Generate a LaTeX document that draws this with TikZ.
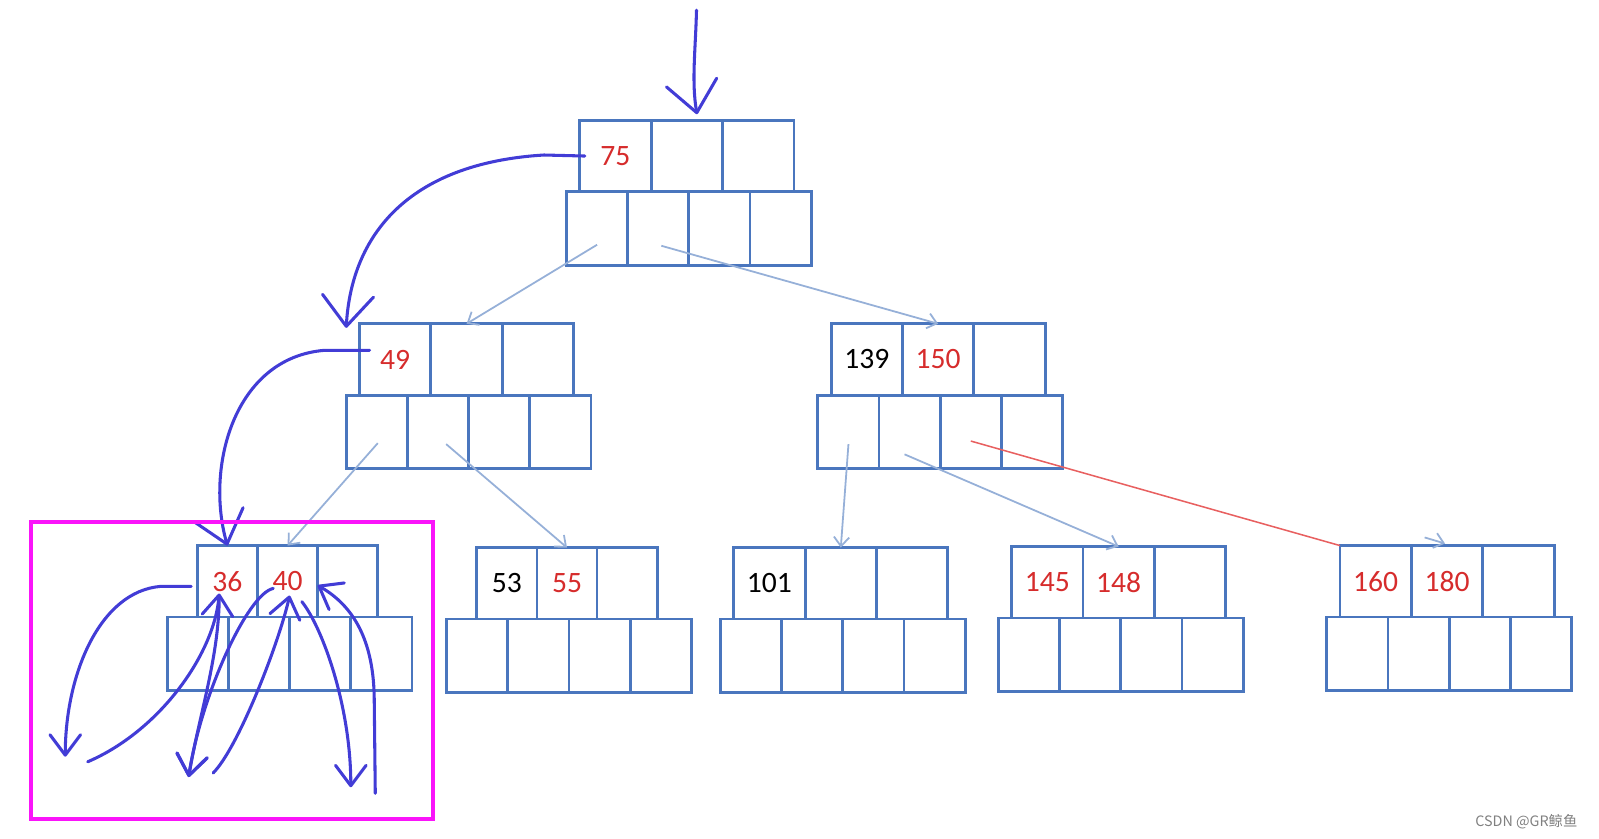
\documentclass[tikz,border=0pt]{standalone}
\usepackage{fontspec}
\setmainfont{Carlito}
\newfontfamily\cjkfont{Noto Sans CJK SC}
\usetikzlibrary{positioning,calc,arrows.meta}
\definecolor{cBox}{RGB}{74,118,190}
\definecolor{cKey}{RGB}{214,44,44}
\definecolor{cPtr}{RGB}{150,176,216}
\definecolor{cRed}{RGB}{232,96,96}
\definecolor{cPen}{RGB}{66,60,214}
\definecolor{cMark}{RGB}{250,20,250}
\newcommand{\kr}[1]{\textcolor{cKey}{#1}}

\begin{document}
\begin{tikzpicture}[
  x=0.2mm, y=-0.2mm,
  font=\fontsize{16.5}{19}\selectfont,
  tcell/.style = {draw=cBox, line width=0.55mm, minimum width=14mm,
                  minimum height=14mm, inner sep=0pt, outer sep=0pt},
  pcell/.style = {draw=cBox, line width=0.55mm, minimum width=12mm,
                  minimum height=14.4mm, inner sep=0pt, outer sep=0pt},
  ptr/.style   = {draw=cPtr, line width=0.35mm, -{Straight Barb[length=1.8mm, width=3mm]}},
  pen/.style   = {draw=cPen, line width=0.6mm, line cap=round, line join=round,
                  -{Straight Barb[length=4mm, width=6mm, round]}},
  penL/.style  = {pen, -{Straight Barb[length=6mm, width=10mm, round]}},
  hl/.style    = {draw=cMark, line width=0.75mm}
]
\useasboundingbox (0,0) rectangle (1568,822);

% ------------------------------------------------------------- i nodi --
\foreach \nm/\x/\y/\w/\ka/\kb in {
    root/673.5/153/14mm/{\kr{75}}/{},
    n49/457.5/352.5/14mm/{\kr{49}}/{},
    n139/920/352.5/14mm/{139}/{\kr{150}},
    l36/282/570/11.8mm/{\kr{36}}/{\kr{40}},
    l53/556/572/11.8mm/{53}/{\kr{55}},
    l101/824.5/572/14mm/{101}/{},
    l145/1097/571/14mm/{\kr{145}}/{\kr{148}},
    l160/1419/570/14mm/{\kr{160}}/{\kr{180}}}{
  \node[tcell, minimum width=\w] (\nm-t2) at (\x,\y) {\kb};
  \node[tcell, minimum width=\w, left=0pt of \nm-t2]  (\nm-t1) {\ka};
  \node[tcell, minimum width=\w, right=0pt of \nm-t2] (\nm-t3) {};
  \node[pcell, anchor=north east] (\nm-p2) at ($(\nm-t2.south)+(2,0)$) {};
  \node[pcell, left=0pt of \nm-p2]  (\nm-p1) {};
  \node[pcell, anchor=north west] (\nm-p3) at ($(\nm-t2.south)+(2,0)$) {};
  \node[pcell, right=0pt of \nm-p3] (\nm-p4) {};
}

% ---------------------------------------------------------- i puntatori --
\draw[ptr] ($(root-p1.center)+(0,16)$)  -- (n49-t2.north);
\draw[ptr] ($(root-p2.center)+(3,17)$)  -- (n139-t2.north);
\draw[ptr] ($(n49-p1.center)+(1,11)$)   -- (l36-t2.north);
\draw[ptr] ($(n49-p2.center)+(8,12)$)   -- (l53-t2.north);
\draw[ptr] ($(n139-p1.center)+(0,12)$)  -- (l101-t2.north);
\draw[ptr] ($(n139-p2.center)+(-5,22)$) -- (l145-t2.north);
\draw[cRed, line width=0.3mm] ($(n139-p3.center)+(0,9)$) -- (l160-t1.north west);
\coordinate (stub) at ($(l160-t2.north)+(-22,-8)$);
\draw[ptr] (stub) -- ($(l160-t2.north)+(-2,-2)$);

% ------------------------------------------------------ la ricerca a mano --
\coordinate (entry) at (683,10);
\draw[penL] (entry) .. controls (682,50) and (678,80) .. ($(root-t2.north)+(10,-6)$);
\draw[penL] ($(root-t1.west)+(5,0)$) -- ++(-40,-1)
  .. controls +(-134,8) and +(5,-90) .. ($(n49-t1.north west)+(-13,4)$);
\draw[penL] ($(n49-t1.west)+(10,-9)$) -- ++(-44,0)
  .. controls +(-89,7) and +(-22,-77) .. (l36-t1.north);

% ------------------------------------------------ la visita nella foglia --
\coordinate (c0)  at (64,742);
\coordinate (c1a) at (86,747);
\coordinate (c1)  at (185,762);
\coordinate (c1b) at (209,758);
\coordinate (c2)  at (344,772);
\coordinate (c2b) at (368,778);
\draw[pen] ($(l36-t1.west)+(-6,5)$) -- ++(-30,0) .. controls +(-60,5) and +(0,-80) .. (c0);
\draw[pen] (c1a) .. controls +(70,-30) and +(-5,60) .. ($(l36-t1.center)+(-8,12)$);
\draw[pen] ($(l36-t1.center)+(-8,14)$) .. controls +(0,60) and +(10,-60) .. (c1);
\draw[pen] ($(l36-t2.center)+(-14,7)$) .. controls +(-25,5) and +(12,-80) .. (c1);
\draw[pen] (c1b) .. controls +(25,-25) and +(-10,45) .. ($(l36-t2.center)+(2,14)$);
\draw[pen] ($(l36-t2.center)+(14,20)$) .. controls +(20,25) and +(0,-80) .. (c2);
\draw[pen] (c2b) -- ++(-1,-90) .. controls +(0,-60) and +(35,20) .. ($(l36-t3.west)+(0,4)$);

\draw[hl] (30,512) rectangle (425,803);

\node[font=\cjkfont\fontsize{8}{8}\selectfont, text=black!50, anchor=east] (wm) at (1553,806) {CSDN @GR鲸鱼};

\end{tikzpicture}
\end{document}
